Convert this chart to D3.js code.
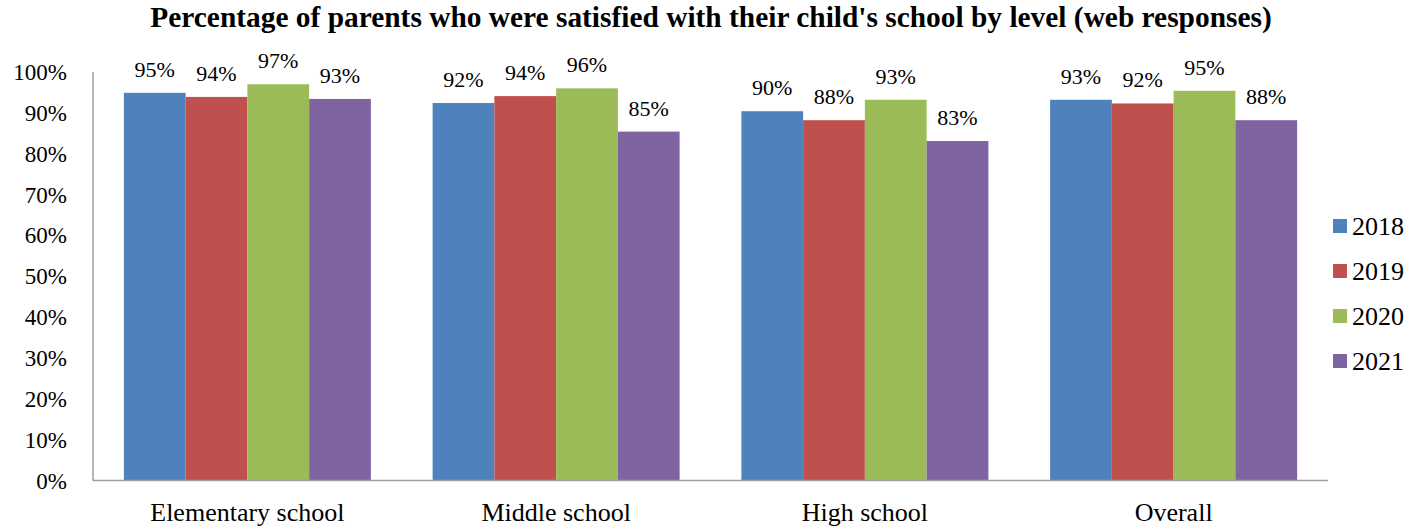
<!DOCTYPE html>
<html><head><meta charset="utf-8">
<script src="https://cdn.jsdelivr.net/npm/d3@7"></script>
<style>body{margin:0;background:#fff;} svg{display:block;} svg text{font-family:"Liberation Serif","DejaVu Serif",serif;}</style>
</head><body>
<svg id="chart" width="1423" height="529"></svg>
<script>
const categories = ["Elementary school", "Middle school", "High school", "Overall"];
const seriesNames = ["2018", "2019", "2020", "2021"];
const colors = ["#4F81BD", "#C0504D", "#9BBB59", "#8064A2"];
const v2018 = [94.9, 92.4, 90.4, 93.2];
const v2019 = [93.9, 94.1, 88.2, 92.3];
const v2020 = [97.0, 96.0, 93.2, 95.4];
const v2021 = [93.4, 85.4, 83.1, 88.2];
const yTicks = [0, 10, 20, 30, 40, 50, 60, 70, 80, 90, 100];
const title = "Percentage of parents who were satisfied with their child's school by level (web responses)";

const series = [v2018, v2019, v2020, v2021];
const svg = d3.select("#chart");
const m = {left: 93, right: 1328, top: 72, bottom: 480.5};
const FF = "Liberation Serif";

const x0 = d3.scaleBand().domain(categories).range([m.left, m.right]);
const xs = d3.scaleBand().domain(seriesNames).range([0, x0.bandwidth() * 0.8]);
const y = d3.scaleLinear().domain([0, 100]).range([m.bottom, m.top]);

svg.append("text").attr("x", 711).attr("y", 27).attr("text-anchor", "middle").attr("font-family", FF)
  .attr("font-size", 29.4).attr("font-weight", "bold").text(title);

svg.append("g").selectAll("text").data(yTicks).join("text")
  .attr("x", 67).attr("y", d => y(d)).attr("dy", "0.35em").attr("text-anchor", "end").attr("font-family", FF)
  .attr("font-size", 23).text(d => d + "%");

const data = [];
categories.forEach((c, i) => seriesNames.forEach((s, j) => data.push({c, s, v: series[j][i], j})));
const gx = (d) => x0(d.c) + x0.bandwidth() * 0.1 + xs(d.s);

svg.append("g").selectAll("rect").data(data).join("rect")
  .attr("x", gx).attr("width", xs.bandwidth())
  .attr("y", d => y(d.v)).attr("height", d => y(0) - y(d.v))
  .attr("fill", d => colors[d.j]);

svg.append("g").selectAll("text").data(data).join("text")
  .attr("x", d => gx(d) + xs.bandwidth() / 2).attr("y", d => y(d.v) - 16)
  .attr("text-anchor", "middle").attr("font-size", 22).attr("font-family", FF)
  .text(d => d3.format(".0f")(d.v) + "%");

svg.append("line").attr("x1", m.left).attr("x2", m.left).attr("y1", m.top).attr("y2", m.bottom)
  .attr("stroke", "#a0a0a0").attr("stroke-width", 1.5);
svg.append("line").attr("x1", m.left).attr("x2", m.right).attr("y1", m.bottom).attr("y2", m.bottom)
  .attr("stroke", "#a0a0a0").attr("stroke-width", 1.5);

svg.append("g").selectAll("text").data(categories).join("text")
  .attr("x", d => x0(d) + x0.bandwidth() / 2).attr("y", 521).attr("text-anchor", "middle").attr("font-family", FF)
  .attr("font-size", 26).text(d => d);

const lg = svg.append("g").selectAll("g").data(seriesNames).join("g")
  .attr("transform", (d, i) => `translate(1333, ${226 + i * 45})`);
lg.append("rect").attr("x", 0).attr("y", -7).attr("width", 14).attr("height", 14).attr("fill", (d, i) => colors[i]);
lg.append("text").attr("x", 19).attr("y", 9).attr("font-size", 26).attr("font-family", FF).text(d => d);
</script>
</body></html>
